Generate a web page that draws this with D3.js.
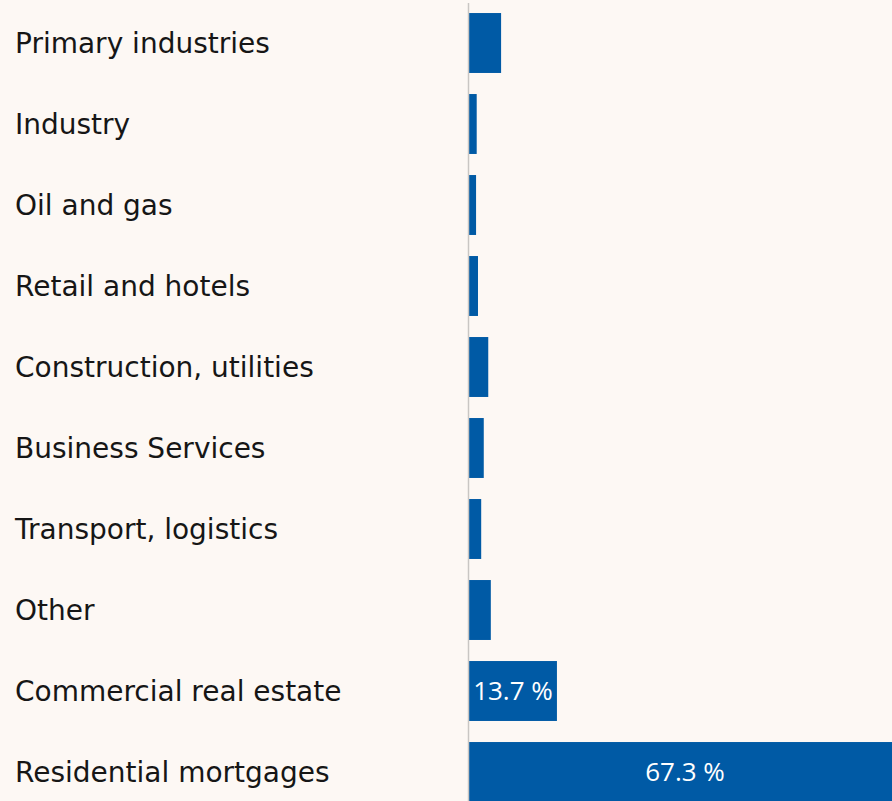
<!DOCTYPE html>
<html>
<head>
<meta charset="utf-8">
<script src="https://cdn.jsdelivr.net/npm/d3@7"></script>
<style>
  html, body { margin: 0; padding: 0; background: #fdf8f4; }
  svg { display: block; }
</style>
</head>
<body>
<svg id="chart" width="892" height="801"></svg>
<script>
// Loan portfolio by sector, share in percent
const categories = [
  "Primary industries",
  "Industry",
  "Oil and gas",
  "Retail and hotels",
  "Construction, utilities",
  "Business Services",
  "Transport, logistics",
  "Other",
  "Commercial real estate",
  "Residential mortgages"
];
const shares = [5.0, 1.2, 1.1, 1.4, 3.0, 2.3, 1.9, 3.4, 13.7, 67.3];

const width = 892, height = 801;
const axisX = 469;
const categoryFont = "'DejaVu Sans', sans-serif";
const valueFont = "'Open Sans', sans-serif";

const svg = d3.select("#chart");

const rows = categories.map((c, i) => ({ category: c, value: shares[i] }));

const y = d3.scaleBand()
  .domain(categories)
  .range([2.5, 812.5])
  .paddingInner(0.26)
  .paddingOuter(0.13);

const x = d3.scaleLinear()
  .domain([0, 67.3])
  .range([axisX, axisX + 432]);

// bars
svg.append("g")
  .selectAll("rect")
  .data(rows)
  .join("rect")
  .attr("x", x(0))
  .attr("y", d => y(d.category))
  .attr("width", d => x(d.value) - x(0))
  .attr("height", y.bandwidth())
  .attr("fill", "#005aa5");

// baseline
svg.append("line")
  .attr("x1", axisX - 0.5).attr("x2", axisX - 0.5)
  .attr("y1", 3).attr("y2", height)
  .attr("stroke", "#c9c6c3")
  .attr("stroke-width", 1.5);

// category labels
const yAxis = d3.axisLeft(y).tickSize(0).tickPadding(0);
const gy = svg.append("g")
  .attr("transform", "translate(15,0)")
  .call(yAxis);
gy.select(".domain").remove();
gy.selectAll("text")
  .attr("text-anchor", "start")
  .attr("x", 0)
  .attr("dy", "0.37em")
  .attr("fill", "#161616")
  .style("font-family", categoryFont)
  .style("font-size", "28px");

// value labels inside the wide bars
svg.append("g")
  .selectAll("text")
  .data(rows.filter(d => d.value > 10))
  .join("text")
  .attr("x", d => (x(0) + x(d.value)) / 2)
  .attr("y", d => y(d.category) + y.bandwidth() / 2)
  .attr("dy", "0.36em")
  .attr("text-anchor", "middle")
  .attr("fill", "#fff")
  .style("font-family", valueFont)
  .style("font-size", "26px")
  .text(d => d.value.toFixed(1) + " %");
</script>
</body>
</html>
